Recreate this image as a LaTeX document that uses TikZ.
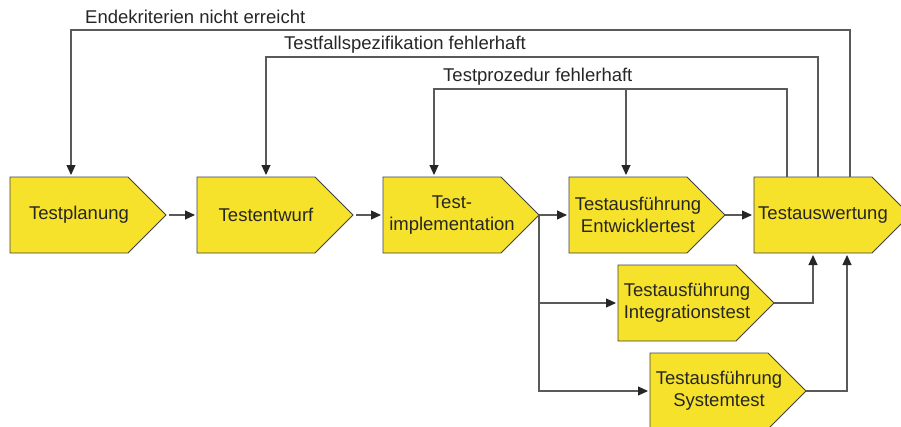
\documentclass[tikz,border=0pt]{standalone}
\usepackage{fontspec}
\setmainfont{Liberation Sans}
\usetikzlibrary{arrows.meta}
\usetikzlibrary{backgrounds}

\definecolor{stagefill}{HTML}{F7E22B}
\definecolor{linegray}{HTML}{5A5A5A}

\tikzset{
  stage/.style={rectangle, minimum width=138pt, minimum height=76pt,
    inner sep=0pt, outer sep=0pt, align=center, text=black!85,
    font=\fontsize{18.5}{22}\selectfont},
  stageshape/.style={draw=black!75, fill=stagefill, line width=0.8pt},
  flow/.style={draw=linegray, line width=1.1pt, shorten >=2pt,
    -{Triangle[length=10pt,width=9pt,color=black!85]}},
  loopnote/.style={anchor=base west, inner sep=0pt, text=black!85,
    font=\fontsize{18.5}{22}\selectfont},
}

\begin{document}
\begin{tikzpicture}[x=1pt,y=-1pt]
\useasboundingbox (0,0) rectangle (901,426);

% main chain
\node[stage] (plan)  at (79,215)  {Testplanung};
\node[stage] (entw)  at (266,215) {Testentwurf};
\node[stage] (impl)  at (452,215) {Test-\\implementation};
\node[stage] (entwt) at (638,215) {Testausführung\\Entwicklertest};
\node[stage] (ausw)  at (823,215) {Testauswertung};

% further test levels
\node[stage] (integ) at (687,303) {Testausführung\\Integrationstest};
\node[stage] (sys)   at (719,391) {Testausführung\\Systemtest};

% arrow shaped boxes behind the texts
\begin{scope}[on background layer]
\foreach \n in {plan,entw,impl,entwt,ausw,integ,sys}
  \draw[stageshape] (\n.north west) -- ([xshift=-20pt]\n.north east)
    -- ([xshift=18pt]\n.east) -- ([xshift=-20pt]\n.south east)
    -- (\n.south west) -- cycle;
\end{scope}

\draw[flow, shorten <=3pt] ([xshift=18pt]plan.east) -- (entw.west);
\draw[flow, shorten <=3pt] ([xshift=18pt]entw.east) -- (impl.west);
\draw[flow] ([xshift=18pt]impl.east) -- (entwt.west);
\draw[flow] ([xshift=18pt]entwt.east) -- (ausw.west);

\draw[flow] ([xshift=18pt]impl.east) |- (integ.west);
\draw[flow] ([xshift=18pt]impl.east) |- (sys.west);
\draw[flow] ([xshift=18pt]integ.east) -| ([xshift=-10pt]ausw.south);
\draw[flow] ([xshift=18pt]sys.east) -| ([xshift=24pt]ausw.south);

% feedback loops
\coordinate (proz) at (626,89);
\draw[flow] ([xshift=-36pt]ausw.north) |- (434,89) -- ([xshift=-18pt]impl.north);
\draw[flow] (proz) -- ([xshift=-12pt]entwt.north);
\draw[flow] ([xshift=-5pt]ausw.north) |- (266,57) -- (entw.north);
\draw[flow] ([xshift=27pt]ausw.north) |- (71,30) -- ([xshift=-8pt]plan.north);

\node[loopnote] (n1) at (85,23)  {Endekriterien nicht erreicht};
\node[loopnote] (n2) at (284,49) {Testfallspezifikation fehlerhaft};
\node[loopnote] (n3) at (443,81) {Testprozedur fehlerhaft};
\end{tikzpicture}
\end{document}
